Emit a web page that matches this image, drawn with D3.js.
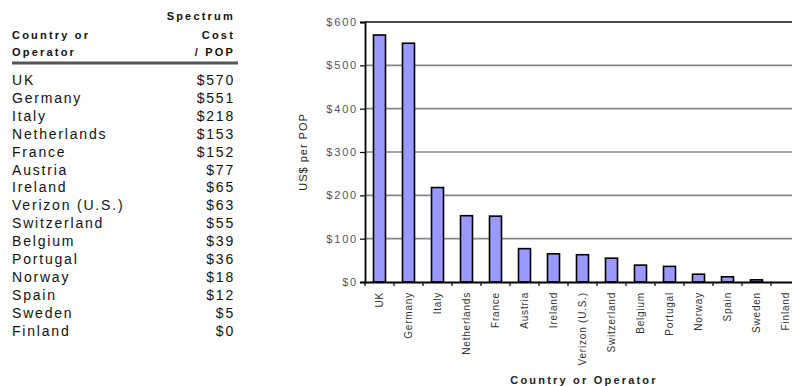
<!DOCTYPE html>
<html><head><meta charset="utf-8">
<script src="https://cdn.jsdelivr.net/npm/d3@7"></script>
<style>body{margin:0;background:#fff}svg{display:block}</style>
</head><body>
<svg id="c" width="792" height="386"></svg>
<script>
const categories = ["UK","Germany","Italy","Netherlands","France","Austria","Ireland","Verizon (U.S.)","Switzerland","Belgium","Portugal","Norway","Spain","Sweden","Finland"];
const values = [570,551,218,153,152,77,65,63,55,39,36,18,12,5,0];
const yTicks = [0,100,200,300,400,500,600];

(function(){
const svg = d3.select("#c");
const font = "'Liberation Sans', Arial, sans-serif";

// ---- Table ----
const tbl = svg.append("g").attr("font-family", font).attr("fill", "#111");
const hdr = [
  {t:"Spectrum", x:235, y:20, a:"end"},
  {t:"Country or", x:12, y:39, a:"start"},
  {t:"Cost", x:235, y:39, a:"end"},
  {t:"Operator", x:12, y:56, a:"start"},
  {t:"/ POP", x:235, y:56, a:"end"}
];
tbl.selectAll("text.h").data(hdr).join("text").attr("class","h")
  .attr("x", d=>d.x).attr("y", d=>d.y).attr("text-anchor", d=>d.a)
  .attr("font-size", 11).attr("font-weight","bold").attr("letter-spacing", 2.2)
  .text(d=>d.t);
tbl.append("line").attr("x1",12).attr("x2",238).attr("y1",63).attr("y2",63)
  .attr("stroke","#555").attr("stroke-width",3);
const rowY = d3.scaleLinear().domain([0,14]).range([85, 85+14*17.9]);
tbl.selectAll("text.n").data(categories).join("text").attr("class","n")
  .attr("x",12).attr("y",(d,i)=>rowY(i)).attr("font-size",14).attr("letter-spacing",1.8)
  .text(d=>d);
tbl.selectAll("text.v").data(values).join("text").attr("class","v")
  .attr("x",235).attr("y",(d,i)=>rowY(i)).attr("text-anchor","end").attr("font-size",14).attr("letter-spacing",1.8)
  .text(d=>"$"+d);

// ---- Chart ----
const pL = 365, pR = 800, pT = 22, pB = 282;
const x = d3.scaleBand().domain(categories).range([pL, pR]).padding(0);
const y = d3.scaleLinear().domain([0,600]).range([pB, pT]);

// gridlines
svg.append("g").selectAll("line").data(yTicks.filter(t=>t>0)).join("line")
  .attr("x1", pL).attr("x2", pR).attr("y1", d=>y(d)).attr("y2", d=>y(d))
  .attr("stroke", d=> d===600 ? "#111" : "#888").attr("stroke-width", 1.6);

// bars
const bw = 12;
svg.append("g").selectAll("rect").data(values).join("rect")
  .attr("x", (d,i)=> x(categories[i]) + x.bandwidth()/2 - bw/2)
  .attr("y", d=> y(d))
  .attr("width", bw).attr("height", d=> pB - y(d))
  .attr("fill", "#9999ff").attr("stroke", "#000").attr("stroke-width", 1.6);

// y axis
const yAxis = svg.append("g").attr("transform", `translate(${pL},0)`)
  .call(d3.axisLeft(y).tickValues(yTicks).tickFormat(d=>"$"+d).tickSizeOuter(0).tickSize(5).tickPadding(2));
yAxis.select(".domain").attr("stroke","#000").attr("stroke-width",1.8);
yAxis.selectAll(".tick line").attr("stroke","#000").attr("stroke-width",1.2);
yAxis.selectAll("text").attr("font-family", font).attr("font-size", 11).attr("fill","#555").attr("letter-spacing",1.8);

// x axis
const xAxis = svg.append("g").attr("transform", `translate(0,${pB})`)
  .call(d3.axisBottom(x).tickSize(0).tickSizeOuter(0));
xAxis.select(".domain").attr("stroke","#000").attr("stroke-width",1.8);
xAxis.selectAll(".tick text")
  .attr("font-family", font).attr("font-size", 10).attr("fill","#333").attr("letter-spacing",0.8)
  .attr("text-anchor","end").attr("dy","0.35em")
  .attr("transform","translate(0,10) rotate(-90)").attr("x",0).attr("y",0);
// boundary ticks between categories
const bounds = categories.map(c=>x(c)).concat([pR]);
svg.append("g").selectAll("line").data(bounds).join("line")
  .attr("x1", d=>d).attr("x2", d=>d).attr("y1", pB).attr("y2", pB+4)
  .attr("stroke","#000").attr("stroke-width",1.2);

// axis titles
svg.append("text").attr("transform", `translate(307,${(pT+pB)/2}) rotate(-90)`)
  .attr("text-anchor","middle").attr("font-family",font).attr("font-size",11).attr("fill","#222")
  .attr("letter-spacing",1).text("US$ per POP");
svg.append("text").attr("x", 584).attr("y", 384).attr("text-anchor","middle")
  .attr("font-family",font).attr("font-size",11).attr("font-weight","bold").attr("fill","#222")
  .attr("letter-spacing",2.2).text("Country or Operator");
})();
</script>
</body></html>
